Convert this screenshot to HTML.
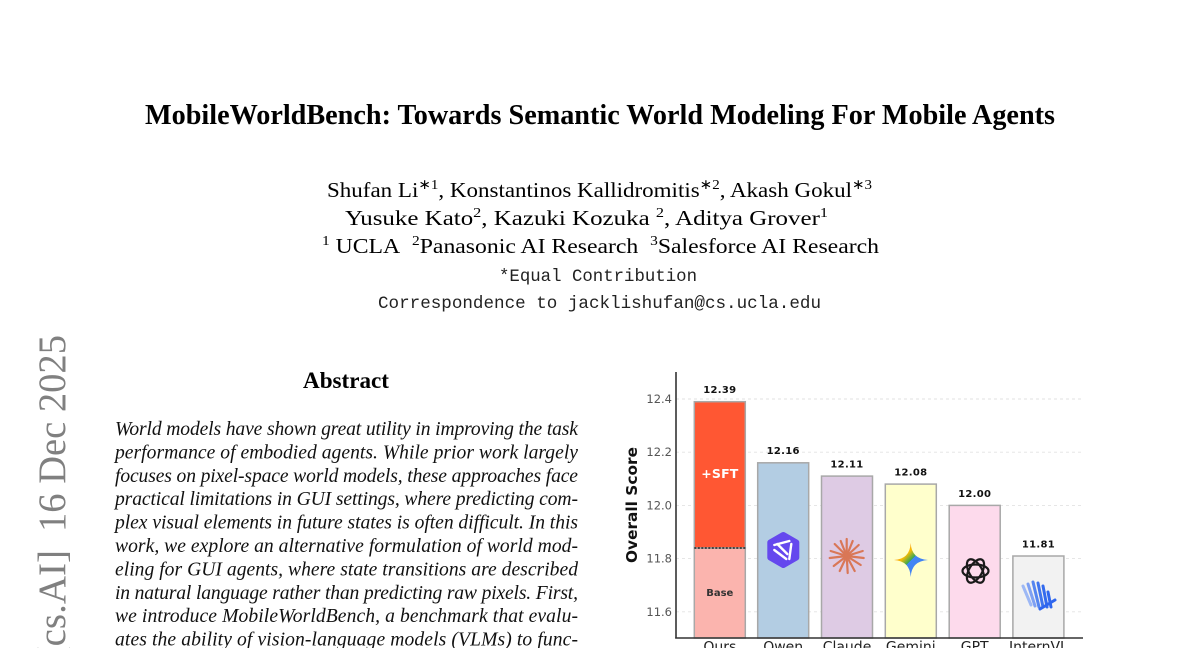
<!DOCTYPE html>
<html><head><meta charset="utf-8"><style>
html,body{margin:0;padding:0;background:#fff;width:1200px;height:648px;overflow:hidden}
svg{display:block;overflow:hidden}
</style></head><body>
<svg width="1200" height="648" viewBox="0 0 1200 648" xmlns="http://www.w3.org/2000/svg">
<defs>
<clipPath id="frame"><rect x="0" y="0" width="1200" height="648"/></clipPath>
<linearGradient id="gem2" x1="0" y1="0" x2="1" y2="1">
<stop offset="0" stop-color="#ea4335"/>
<stop offset="0.35" stop-color="#fbbc04"/>
<stop offset="0.5" stop-color="#34a853"/>
<stop offset="0.5" stop-color="#4285f4"/>
<stop offset="1" stop-color="#3f7ff2"/>
</linearGradient>
</defs>
<g clip-path="url(#frame)">
<!-- Title -->
<text x="145" y="124" font-family="Liberation Serif, serif" font-weight="bold" font-size="28" textLength="910" lengthAdjust="spacingAndGlyphs" fill="#000">MobileWorldBench: Towards Semantic World Modeling For Mobile Agents</text>

<!-- Authors -->
<g font-family="Liberation Serif, serif" font-size="21.5" fill="#000">
<text x="327" y="197" textLength="545" lengthAdjust="spacingAndGlyphs">Shufan Li<tspan font-size="14" dy="-8">∗1</tspan><tspan dy="8">, Konstantinos Kallidromitis</tspan><tspan font-size="14" dy="-8">∗2</tspan><tspan dy="8">, Akash Gokul</tspan><tspan font-size="14" dy="-8">∗3</tspan></text>
<text x="345" y="225" textLength="483" lengthAdjust="spacingAndGlyphs">Yusuke Kato<tspan font-size="14" dy="-8">2</tspan><tspan dy="8">, Kazuki Kozuka </tspan><tspan font-size="14" dy="-8">2</tspan><tspan dy="8">, Aditya Grover</tspan><tspan font-size="14" dy="-8">1</tspan></text>
<text x="322" y="253" textLength="557" lengthAdjust="spacingAndGlyphs"><tspan font-size="14" dy="-8">1</tspan><tspan dy="8"> UCLA&#160;&#160;</tspan><tspan font-size="14" dy="-8">2</tspan><tspan dy="8">Panasonic AI Research&#160;&#160;</tspan><tspan font-size="14" dy="-8">3</tspan><tspan dy="8">Salesforce AI Research</tspan></text>
</g>
<g font-family="Liberation Mono, monospace" font-size="17.4" fill="#222">
<text x="499" y="281" textLength="198" lengthAdjust="spacingAndGlyphs">*Equal Contribution</text>
<text x="378" y="308" textLength="443" lengthAdjust="spacingAndGlyphs">Correspondence to jacklishufan@cs.ucla.edu</text>
</g>

<!-- arXiv stamp -->
<g font-family="Liberation Serif, serif" font-size="39" fill="#808080">
<text transform="translate(65,532) rotate(-90)" textLength="197" lengthAdjust="spacingAndGlyphs">16 Dec 2025</text>
<text transform="translate(65,550) rotate(-90)" text-anchor="end">[cs.AI]</text>
</g>

<!-- Abstract -->
<text x="303" y="388" font-family="Liberation Serif, serif" font-weight="bold" font-size="23" textLength="86" lengthAdjust="spacingAndGlyphs" fill="#000">Abstract</text>
<g font-family="Liberation Serif, serif" font-style="italic" font-size="19.6" fill="#111">
<text x="115" y="435" textLength="463" lengthAdjust="spacing">World models have shown great utility in improving the task</text>
<text x="115" y="458.4" textLength="463" lengthAdjust="spacing">performance of embodied agents. While prior work largely</text>
<text x="115" y="481.8" textLength="463" lengthAdjust="spacing">focuses on pixel-space world models, these approaches face</text>
<text x="115" y="505.2" textLength="463" lengthAdjust="spacing">practical limitations in GUI settings, where predicting com-</text>
<text x="115" y="528.6" textLength="463" lengthAdjust="spacing">plex visual elements in future states is often difficult. In this</text>
<text x="115" y="552" textLength="463" lengthAdjust="spacing">work, we explore an alternative formulation of world mod-</text>
<text x="115" y="575.4" textLength="463" lengthAdjust="spacing">eling for GUI agents, where state transitions are described</text>
<text x="115" y="598.8" textLength="463" lengthAdjust="spacing">in natural language rather than predicting raw pixels. First,</text>
<text x="115" y="622.2" textLength="463" lengthAdjust="spacing">we introduce MobileWorldBench, a benchmark that evalu-</text>
<text x="115" y="645.6" textLength="463" lengthAdjust="spacing">ates the ability of vision-language models (VLMs) to func-</text>
</g>

<!-- Chart -->
<g stroke="#e2e2e2" stroke-width="0.9" stroke-dasharray="3,3">
<line x1="676" y1="399" x2="1083" y2="399"/>
<line x1="676" y1="452.2" x2="1083" y2="452.2"/>
<line x1="676" y1="505.4" x2="1083" y2="505.4"/>
<line x1="676" y1="558.6" x2="1083" y2="558.6"/>
<line x1="676" y1="611.8" x2="1083" y2="611.8"/>
</g>
<g font-family="DejaVu Sans, sans-serif" font-size="11.5" fill="#555" text-anchor="end">
<text x="672" y="403">12.4</text>
<text x="672" y="456.2">12.2</text>
<text x="672" y="509.4">12.0</text>
<text x="672" y="562.6">11.8</text>
<text x="672" y="615.8">11.6</text>
</g>
<text transform="translate(637,563) rotate(-90)" font-family="DejaVu Sans, sans-serif" font-weight="bold" font-size="15" fill="#111" textLength="116" lengthAdjust="spacingAndGlyphs">Overall Score</text>

<!-- Bars -->
<g stroke="#a8a8a8" stroke-width="1.5">
<rect x="694.3" y="548" width="51" height="90" fill="#FBB4AE"/>
<rect x="694.3" y="401.7" width="51" height="146.3" fill="#FF5733"/>
<rect x="757.7" y="462.8" width="51" height="175.2" fill="#B3CDE3"/>
<rect x="821.5" y="476.1" width="51" height="161.9" fill="#DECBE4"/>
<rect x="885.3" y="484.1" width="51" height="153.9" fill="#FFFFCC"/>
<rect x="949.2" y="505.4" width="51" height="132.6" fill="#FDDAEC"/>
<rect x="1012.9" y="556" width="51" height="82" fill="#F2F2F2"/>
</g>
<line x1="694.3" y1="548" x2="745.3" y2="548" stroke="#444" stroke-width="2" stroke-dasharray="2,1.5"/>
<text x="719.8" y="478" text-anchor="middle" font-family="DejaVu Sans, sans-serif" font-weight="bold" font-size="12.5" fill="#fff" textLength="37" lengthAdjust="spacing">+SFT</text>
<text x="719.8" y="596" text-anchor="middle" font-family="DejaVu Sans, sans-serif" font-weight="bold" font-size="10" fill="#333">Base</text>

<g font-family="DejaVu Sans, sans-serif" font-weight="bold" font-size="10" fill="#111" text-anchor="middle" letter-spacing="0.3">
<text x="719.8" y="393">12.39</text>
<text x="783.2" y="454">12.16</text>
<text x="847" y="467.6">12.11</text>
<text x="910.8" y="475.6">12.08</text>
<text x="974.7" y="497">12.00</text>
<text x="1038.4" y="547.5">11.81</text>
</g>

<!-- axes -->
<line x1="676" y1="372" x2="676" y2="638.5" stroke="#333" stroke-width="1.6"/>
<line x1="675.2" y1="638" x2="1083" y2="638" stroke="#333" stroke-width="1.6"/>

<g font-family="DejaVu Sans, sans-serif" font-size="14" fill="#222" text-anchor="middle">
<text x="719.8" y="651.5">Ours</text>
<text x="783.2" y="651.5">Qwen</text>
<text x="847" y="651.5">Claude</text>
<text x="910.8" y="651.5">Gemini</text>
<text x="974.7" y="651.5">GPT</text>
<text x="1038.4" y="651.5">InternVL</text>
</g>

<!-- Qwen icon -->
<g transform="translate(783.3,550)">
<polygon points="0,-15 13,-7.5 13,7.5 0,15 -13,7.5 -13,-7.5" fill="#6548ee" stroke="#6548ee" stroke-width="6" stroke-linejoin="round"/>
<g stroke="#fff" stroke-width="2.4" fill="none" stroke-linecap="round" stroke-linejoin="round">
<path d="M-9,-5 L6,-9"/>
<path d="M8,-6 L6,9"/>
<path d="M3,9 L-9,0"/>
<path d="M-6,-6 L4,4"/>
</g>
</g>

<!-- Claude icon -->
<g transform="translate(846.7,556)" stroke="#D97757" stroke-width="2.2" stroke-linecap="round">
<line x1="0" y1="0" x2="0" y2="-17"/>
<line x1="0" y1="0" x2="6" y2="-15"/>
<line x1="0" y1="0" x2="12" y2="-11"/>
<line x1="0" y1="0" x2="16" y2="-5"/>
<line x1="0" y1="0" x2="17" y2="2"/>
<line x1="0" y1="0" x2="14" y2="9"/>
<line x1="0" y1="0" x2="8" y2="15"/>
<line x1="0" y1="0" x2="1" y2="17"/>
<line x1="0" y1="0" x2="-7" y2="15"/>
<line x1="0" y1="0" x2="-13" y2="10"/>
<line x1="0" y1="0" x2="-17" y2="2"/>
<line x1="0" y1="0" x2="-16" y2="-5"/>
<line x1="0" y1="0" x2="-12" y2="-12"/>
<line x1="0" y1="0" x2="-6" y2="-15"/>
</g>

<!-- Gemini icon -->
<path d="M910.7,543 Q911.5,559 928,560 Q911.5,561 910.7,577 Q909.9,561 894,560 Q909.9,559 910.7,543 Z" fill="url(#gem2)"/>

<!-- GPT icon -->
<g transform="translate(975.5,571)" fill="none" stroke="#1a1a1a" stroke-width="2.2">
<ellipse cx="0" cy="0" rx="13" ry="6.5"/>
<ellipse cx="0" cy="0" rx="13" ry="6.5" transform="rotate(60)"/>
<ellipse cx="0" cy="0" rx="13" ry="6.5" transform="rotate(120)"/>
</g>

<!-- InternVL icon -->
<g stroke-linecap="round" stroke-width="3">
<line x1="1023" y1="586" x2="1031" y2="605" stroke="#9db8f5"/>
<line x1="1028" y1="584" x2="1035" y2="606" stroke="#7ea0f3"/>
<line x1="1033" y1="582" x2="1039" y2="607" stroke="#5585f0"/>
<line x1="1038" y1="583" x2="1043" y2="607" stroke="#3f74ee"/>
<line x1="1043" y1="586" x2="1047" y2="607" stroke="#336aee"/>
<line x1="1048" y1="592" x2="1051" y2="607" stroke="#2f66ee"/>
<line x1="1040" y1="609" x2="1055" y2="600" stroke="#2f66ee"/>
</g>
</g>
</svg>
</body></html>
